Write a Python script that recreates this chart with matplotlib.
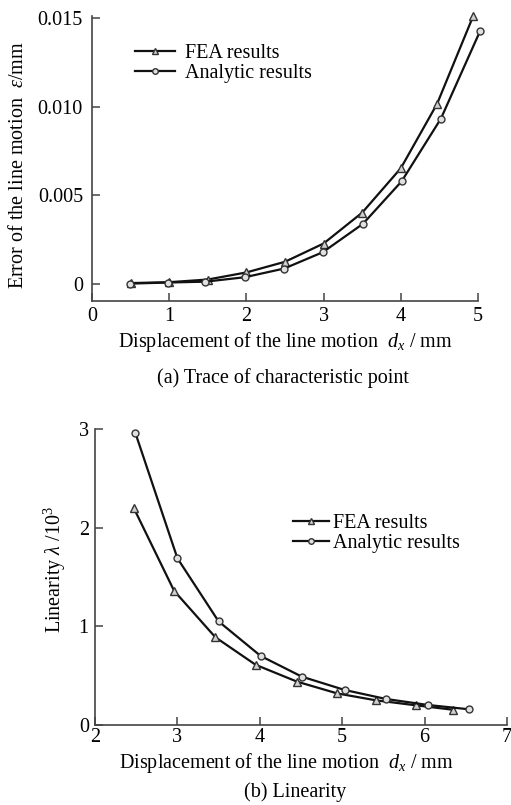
import matplotlib
matplotlib.use("Agg")
import matplotlib.pyplot as plt

plt.rcParams['font.family'] = ['Liberation Serif', 'DejaVu Serif']
plt.rcParams['mathtext.fontset'] = 'custom'
plt.rcParams['mathtext.rm'] = 'Liberation Serif'
plt.rcParams['mathtext.it'] = 'Liberation Serif:italic'

# ---- Data: (a) error of the line motion ----
fea_a_x = [0.5, 1.0, 1.5, 2.0, 2.5, 3.0, 3.5, 4.0, 4.47, 4.94]
fea_a_y = [0.00005, 0.0001, 0.00025, 0.00065, 0.00125, 0.00228, 0.00402, 0.00652, 0.01015, 0.01512]
ana_a_x = [0.49, 0.98, 1.47, 1.98, 2.49, 2.99, 3.51, 4.01, 4.52, 5.03]
ana_a_y = [0.00002, 0.00008, 0.00013, 0.00038, 0.00087, 0.00179, 0.00339, 0.00578, 0.00932, 0.01428]
xticks_a = [0, 1, 2, 3, 4, 5]
yticks_a = [0, 0.005, 0.010, 0.015]
yticklabels_a = ['0', '0.005', '0.010', '0.015']

# ---- Data: (b) linearity ----
fea_b_x = [2.47, 2.96, 3.46, 3.95, 4.45, 4.94, 5.41, 5.89, 6.34]
fea_b_y = [2.20, 1.36, 0.89, 0.61, 0.44, 0.32, 0.25, 0.20, 0.155]
ana_b_x = [2.49, 3.00, 3.50, 4.01, 4.51, 5.03, 5.53, 6.04, 6.54]
ana_b_y = [2.96, 1.69, 1.05, 0.70, 0.49, 0.355, 0.264, 0.203, 0.159]
xticks_b = [2, 3, 4, 5, 6, 7]
yticks_b = [0, 1, 2, 3]

labels = ['FEA results', 'Analytic results']

W, H = 511, 805
fig = plt.figure(figsize=(W / 100, H / 100), dpi=100)

FS = 14.5
line_kw = dict(color='#111111', lw=1.6, clip_on=False)
tri_kw = dict(marker='^', markersize=5.5, markerfacecolor='#d0d0d0', markeredgecolor='#333333', markeredgewidth=1.0)
cir_kw = dict(marker='o', markersize=5, markerfacecolor='#e0e0e0', markeredgecolor='#333333', markeredgewidth=1.0)


def px_axes(left, right, top, bottom):
    return fig.add_axes([left / W, 1 - bottom / H, (right - left) / W, (bottom - top) / H])


def style(ax, ypad):
    for s in ['top', 'right']:
        ax.spines[s].set_visible(False)
    for s in ['left', 'bottom']:
        ax.spines[s].set_color('#444444')
        ax.spines[s].set_linewidth(1.2)
    ax.tick_params(axis='both', direction='in', length=6, width=1.1, color='#444444',
                   labelsize=FS)
    ax.tick_params(axis='y', pad=ypad)


# (a)
ax1 = px_axes(92, 478, 16, 301)
ax1.plot(fea_a_x, fea_a_y, label=labels[0], **line_kw, **tri_kw)
ax1.plot(ana_a_x, ana_a_y, label=labels[1], **line_kw, **cir_kw)
ax1.set_xlim(0, 5)
ax1.set_ylim(-0.00096, 0.0151)
ax1.set_xticks(xticks_a)
ax1.set_yticks(yticks_a)
ax1.set_yticklabels(yticklabels_a)
style(ax1, 6.5)
ax1.tick_params(axis='x', pad=4)
ax1.set_xlabel(r'Displacement of the line motion  $\mathit{d_x}$ / mm', fontsize=FS, va='center')
ax1.xaxis.set_label_coords(0.5, -0.144)
ax1.set_ylabel(r'Error of the line motion  $\mathit{\varepsilon}$/mm', fontsize=FS, va='center')
ax1.yaxis.set_label_coords(-0.19, 0.477)
leg1 = ax1.legend(loc='upper left', bbox_to_anchor=(0.09, 0.93), frameon=False, fontsize=FS,
                  handlelength=2.0, handletextpad=0.5, labelspacing=0.05, borderaxespad=0,
                  markerscale=0.8)

# (b)
ax2 = px_axes(95, 507, 429, 725)
ax2.plot(fea_b_x, fea_b_y, label=labels[0], **line_kw, **tri_kw)
ax2.plot(ana_b_x, ana_b_y, label=labels[1], **line_kw, **cir_kw)
ax2.set_xlim(2, 7)
ax2.set_ylim(0, 3)
ax2.set_xticks(xticks_b)
ax2.set_yticks(yticks_b)
style(ax2, 4.5)
ax2.tick_params(axis='x', pad=2)
ax2.set_xlabel(r'Displacement of the line motion  $\mathit{d_x}$ / mm', fontsize=FS, va='center')
ax2.xaxis.set_label_coords(0.464, -0.128)
ax2.set_ylabel(r'Linearity $\mathit{\lambda}$ /10$^3$', fontsize=FS, va='center')
ax2.yaxis.set_label_coords(-0.097, 0.524)
leg2 = ax2.legend(loc='upper left', bbox_to_anchor=(0.46, 0.74), frameon=False, fontsize=FS,
                  handlelength=1.8, handletextpad=0.2, labelspacing=0.05, borderaxespad=0,
                  markerscale=0.8)

fig.text(283 / W, 1 - 378 / H, '(a) Trace of characteristic point', fontsize=FS, ha='center', va='center')
fig.text(295 / W, 1 - 792 / H, '(b) Linearity', fontsize=FS, ha='center', va='center')

fig.savefig('out.png', dpi=100)
